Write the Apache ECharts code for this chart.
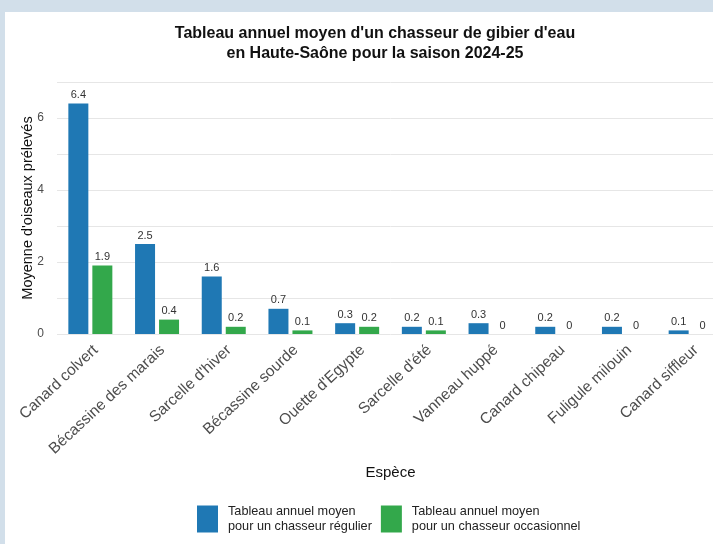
<!DOCTYPE html>
<html>
<head>
<meta charset="utf-8">
<script src="https://cdn.jsdelivr.net/npm/echarts@6/dist/echarts.min.js"></script>
<style>
html,body{margin:0;padding:0;background:#d2dfea;overflow:hidden;width:713px;height:544px;}
#chart{width:740px;height:544px;}
</style>
</head>
<body>
<div id="chart"></div>
<script>
const categories = ["Canard colvert", "Bécassine des marais", "Sarcelle d'hiver", "Bécassine sourde", "Ouette d'Egypte", "Sarcelle d'été", "Vanneau huppé", "Canard chipeau", "Fuligule milouin", "Canard siffleur"];
const regular = [6.4, 2.5, 1.6, 0.7, 0.3, 0.2, 0.3, 0.2, 0.2, 0.1];
const occasional = [1.9, 0.4, 0.2, 0.1, 0.2, 0.1, 0, 0, 0, 0];
const yTicks = [0, 2, 4, 6];
const seriesNames = ["Tableau annuel moyen\npour un chasseur régulier", "Tableau annuel moyen\npour un chasseur occasionnel"];
const colors = ["#1f78b4", "#33a84b"];

const chart = echarts.init(document.getElementById('chart'));
const font = "'Liberation Sans', Arial, sans-serif";
const labelCfg = {
  show: true, position: 'top', distance: 3,
  fontFamily: font, fontSize: 11, color: '#333',
  formatter: p => String(p.value)
};
chart.setOption({
  backgroundColor: '#d2dfea',
  animation: false,
  textStyle: { fontFamily: font },
  graphic: [{
    type: 'rect', z: -10, silent: true,
    shape: { x: 5, y: 12, width: 740, height: 540 },
    style: { fill: '#ffffff' }
  }],
  title: {
    text: "Tableau annuel moyen d'un chasseur de gibier d'eau\nen Haute-Saône pour la saison 2024-25",
    left: 370, top: 19, textAlign: 'center',
    textStyle: { fontFamily: font, fontSize: 16, fontWeight: 'bold', color: '#111', lineHeight: 20 }
  },
  legend: {
    left: 197, top: 502, padding: 0,
    itemWidth: 21, itemHeight: 27, itemGap: 9,
    icon: 'rect',
    textStyle: { fontFamily: font, fontSize: 12.7, color: '#222', lineHeight: 15, padding: [4, 0, 0, 5] },
    data: seriesNames
  },
  grid: { left: 57, top: 82, width: 667, height: 252, containLabel: false },
  xAxis: {
    type: 'category', data: categories,
    name: 'Espèce', nameLocation: 'middle', nameGap: 131, nameMoveOverlap: false,
    nameTextStyle: { fontFamily: font, fontSize: 15, color: '#111' },
    axisLine: { show: false }, axisTick: { show: false },
    axisLabel: { rotate: 43, interval: 0, fontFamily: font, fontSize: 15.5, color: '#4d4d4d',
      margin: 8, verticalAlign: 'top', align: 'right' }
  },
  yAxis: {
    type: 'value', min: 0, max: 7, interval: 1,
    name: "Moyenne d'oiseaux prélevés", nameLocation: 'middle', nameGap: 22, nameRotate: 90,
    nameMoveOverlap: false,
    nameTextStyle: { fontFamily: font, fontSize: 14.5, color: '#111' },
    axisLine: { show: false }, axisTick: { show: false },
    axisLabel: { fontFamily: font, fontSize: 12, color: '#4d4d4d', margin: 13,
      formatter: v => yTicks.includes(v) ? String(v) : '' },
    splitLine: { show: true, lineStyle: { color: '#e6e6e6', width: 1 } }
  },
  series: [
    { name: seriesNames[0], type: 'bar', data: regular, barWidth: 20, barGap: '20%',
      itemStyle: { color: colors[0] }, label: labelCfg },
    { name: seriesNames[1], type: 'bar', data: occasional, barWidth: 20,
      itemStyle: { color: colors[1] }, label: labelCfg }
  ]
});
</script>
</body>
</html>
